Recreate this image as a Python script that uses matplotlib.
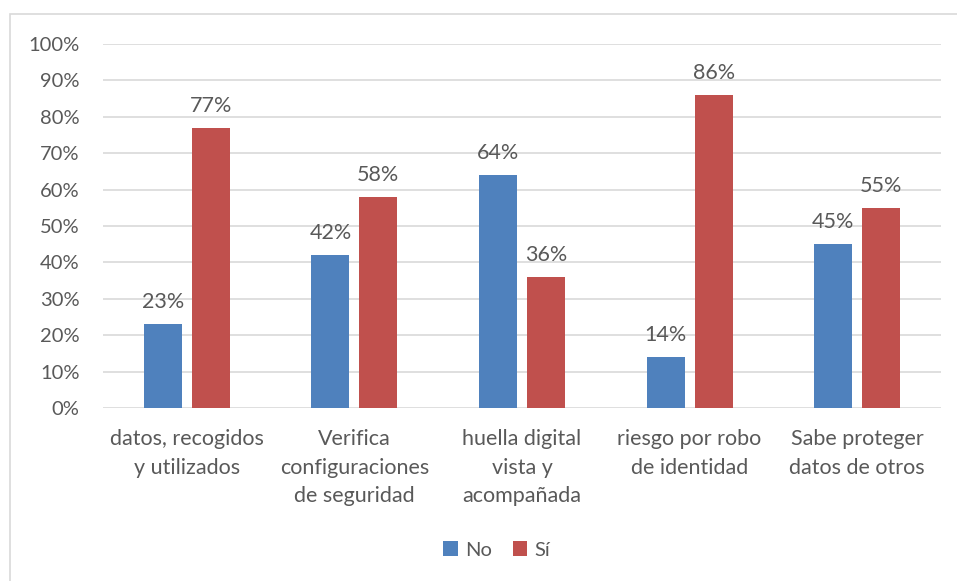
import matplotlib
matplotlib.use("Agg")
import matplotlib.pyplot as plt
import numpy as np
from matplotlib.patches import Rectangle

categories = ["datos, recogidos\ny utilizados", "Verifica\nconfiguraciones\nde seguridad",
              "huella digital\nvista y\nacompañada", "riesgo por robo\nde identidad",
              "Sabe proteger\ndatos de otros"]
no_vals = [23, 42, 64, 14, 45]
si_vals = [77, 58, 36, 86, 55]
series_names = ["No", "Sí"]
yticks = [0, 10, 20, 30, 40, 50, 60, 70, 80, 90, 100]

plt.rcParams['font.family'] = ['Lato', 'DejaVu Sans']
txt = '#595959'
W, H = 957, 581
fig = plt.figure(figsize=(W/100, H/100), dpi=100)
ax = fig.add_axes([103/W, 1-408/H, (941-103)/W, (408-44)/H])

fig.patches.append(Rectangle((10/W, -0.1), 1, 1.1-14/H, transform=fig.transFigure,
                             fill=False, edgecolor='#d9d9d9', linewidth=1.2))

x = np.arange(len(categories))
bw = 0.227
off = 0.143
b1 = ax.bar(x - off, no_vals, bw, color='#4F81BD', label=series_names[0], zorder=3)
b2 = ax.bar(x + off, si_vals, bw, color='#C0504D', label=series_names[1], zorder=3)
for bars, vals in ((b1, no_vals), (b2, si_vals)):
    for b, v in zip(bars, vals):
        ax.text(b.get_x() + b.get_width()/2, v + 3.3, f"{v}%", ha='center', va='bottom',
                fontsize=15.5, color=txt)

ax.set_xlim(-0.5, len(categories) - 0.5)
ax.set_ylim(0, 100)
ax.set_yticks(yticks)
ax.set_yticklabels([f"{t}%" for t in yticks], fontsize=14.5, color=txt)
ax.set_xticks(x)
ax.set_xticklabels(categories, fontsize=15.5, color=txt, linespacing=1.55)
ax.tick_params(axis='y', length=0, pad=17)
ax.tick_params(axis='x', length=0, pad=15)
ax.grid(axis='y', color='#d9d9d9', linewidth=1.2, zorder=0)
for s in ax.spines.values():
    s.set_visible(False)

fig.legend(handles=[b1, b2], labels=series_names, loc='center', bbox_to_anchor=(497/W, 1-550/H),
           ncol=2, frameon=False, fontsize=14.5, handlelength=0.7, handleheight=0.7,
           handletextpad=0.4, columnspacing=1.0, labelcolor=txt)

fig.savefig("out.png", dpi=100)
